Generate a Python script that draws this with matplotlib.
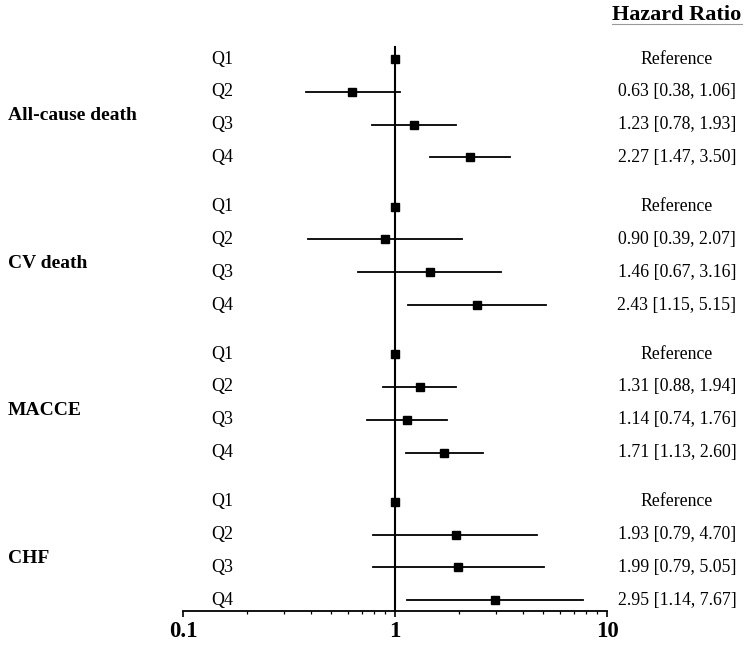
import numpy as np
import matplotlib
matplotlib.use("Agg")
import matplotlib.pyplot as plt
from matplotlib.transforms import blended_transform_factory
from matplotlib.ticker import LogLocator, NullFormatter
from matplotlib.lines import Line2D

plt.rcParams['font.family'] = ['Liberation Serif', 'DejaVu Serif']

# data
groups = ["All-cause death", "CV death", "MACCE", "CHF"]
quartiles = ["Q1", "Q2", "Q3", "Q4"]
hr = [[1.00, 0.63, 1.23, 2.27],
      [1.00, 0.90, 1.46, 2.43],
      [1.00, 1.31, 1.14, 1.71],
      [1.00, 1.93, 1.99, 2.95]]
ci_low = [[np.nan, 0.38, 0.78, 1.47],
          [np.nan, 0.39, 0.67, 1.15],
          [np.nan, 0.88, 0.74, 1.13],
          [np.nan, 0.79, 0.79, 1.14]]
ci_high = [[np.nan, 1.06, 1.93, 3.50],
           [np.nan, 2.07, 3.16, 5.15],
           [np.nan, 1.94, 1.76, 2.60],
           [np.nan, 4.70, 5.05, 7.67]]
xticks = [0.1, 1, 10]
xticklabels = ["0.1", "1", "10"]

group_step = 4.5

fig = plt.figure(figsize=(7.51, 6.46), dpi=100)
ax = fig.add_axes([183 / 751, 1 - 611 / 646, 424 / 751, 571 / 646])

ax.set_xscale('log')
ax.set_xlim(0.1, 10)
ax.set_ylim(16.83, -0.58)

ax.plot([1, 1], [-0.37, 16.83], color='black', lw=1.5, zorder=1)

trans = blended_transform_factory(fig.transFigure, ax.transData)

for g, name in enumerate(groups):
    base = g * group_step
    ax.text(8 / 751, base + 1.73, name, transform=trans, ha='left', va='center',
            fontsize=14, fontweight='bold')
    for i, q in enumerate(quartiles):
        y = base + i
        h, lo, hi = hr[g][i], ci_low[g][i], ci_high[g][i]
        if not np.isnan(lo):
            ax.plot([lo, hi], [y, y], color='black', lw=1.3, zorder=2)
            label = f"{h:.2f} [{lo:.2f}, {hi:.2f}]"
        else:
            label = "Reference"
        ax.plot(h, y, marker='s', ms=6, color='black', ls='none', zorder=3)
        ax.text(222 / 751, y, q, transform=trans, ha='center', va='center', fontsize=13)
        ax.text(677 / 751, y, label, transform=trans, ha='center', va='center', fontsize=12.8)

hdr = fig.text(677 / 751, 1 - 15 / 646, "Hazard Ratio", ha='center', va='center',
               fontsize=16, fontweight='bold')

for side in ['top', 'left', 'right']:
    ax.spines[side].set_visible(False)
ax.spines['bottom'].set_linewidth(1.3)
ax.set_yticks([])
ax.set_xticks(xticks)
ax.set_xticklabels(xticklabels, fontsize=16.5, fontweight='bold')
ax.xaxis.set_minor_locator(LogLocator(base=10, subs=np.arange(2, 10)))
ax.xaxis.set_minor_formatter(NullFormatter())
ax.tick_params(axis='x', which='major', direction='out', length=4, width=1.2, pad=3)
ax.tick_params(axis='x', which='minor', direction='out', length=2.5, width=0.9)

# underline the header
fig.canvas.draw()
bb = hdr.get_window_extent().transformed(fig.transFigure.inverted())
fig.add_artist(Line2D([bb.x0, bb.x1], [1 - 24 / 646] * 2, transform=fig.transFigure,
                      color='#999999', lw=0.8))

fig.savefig("out.png", dpi=100)
